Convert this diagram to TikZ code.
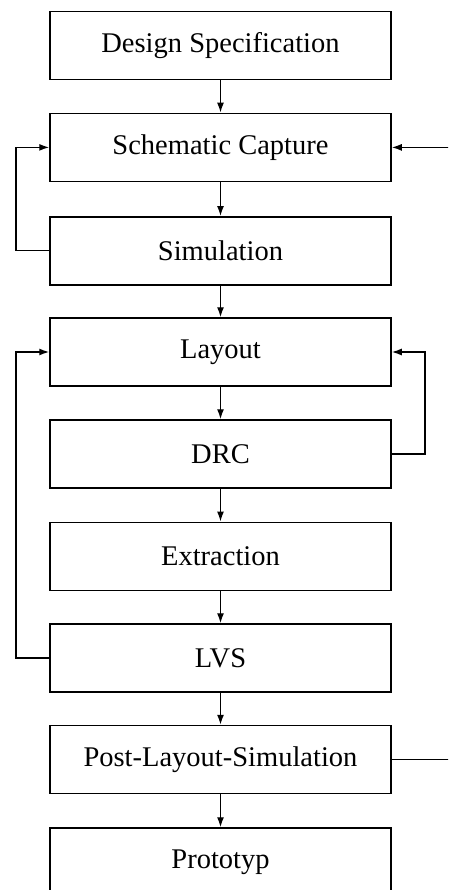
\documentclass[tikz,border=0pt]{standalone}
\usepackage{fontspec}
\setmainfont{Liberation Serif}
\usetikzlibrary{arrows.meta}
\begin{document}
\begin{tikzpicture}[x=1pt,y=-1pt,
  box/.style={draw, line width=1.5pt, minimum width=341pt, minimum height=68pt, inner sep=0pt,
    font=\fontsize{28.5}{34}\selectfont},
  conn/.style={line width=1.4pt, -{Latex[length=10pt,width=7pt]}}]
\useasboundingbox (0,0) rectangle (448,890);
\clip (0,0) rectangle (448,890);
\node[box] (ds)  at (220.5,45.5)  {Design Specification};
\node[box] (sc)  at (220.5,147.4) {Schematic Capture};
\node[box] (sim) at (220.5,250.8) {Simulation};
\node[box] (lay) at (220.5,352)   {Layout};
\node[box] (drc) at (220.5,454)   {DRC};
\node[box] (ext) at (220.5,556.3) {Extraction};
\node[box] (lvs) at (220.5,658)   {LVS};
\node[box] (pls) at (220.5,759.5) {Post-Layout-Simulation};
\node[box] (pro) at (220.5,862)   {Prototyp};
\coordinate (L) at (16,0);
\coordinate (R1) at (425,0);
\coordinate (R2) at (455,0);
\draw[conn] (ds) -- (sc);
\draw[conn] (sc) -- (sim);
\draw[conn] (sim) -- (lay);
\draw[conn] (lay) -- (drc);
\draw[conn] (drc) -- (ext);
\draw[conn] (ext) -- (lvs);
\draw[conn] (lvs) -- (pls);
\draw[conn] (pls) -- (pro);
\draw[conn] (sim.west) -- (sim.west -| L) |- (sc.west);
\draw[conn] (lvs.west) -- (lvs.west -| L) |- (lay.west);
\draw[conn] (drc.east) -- (drc.east -| R1) |- (lay.east);
\draw[conn] (pls.east) -- (pls.east -| R2) |- (sc.east);
\end{tikzpicture}
\end{document}
